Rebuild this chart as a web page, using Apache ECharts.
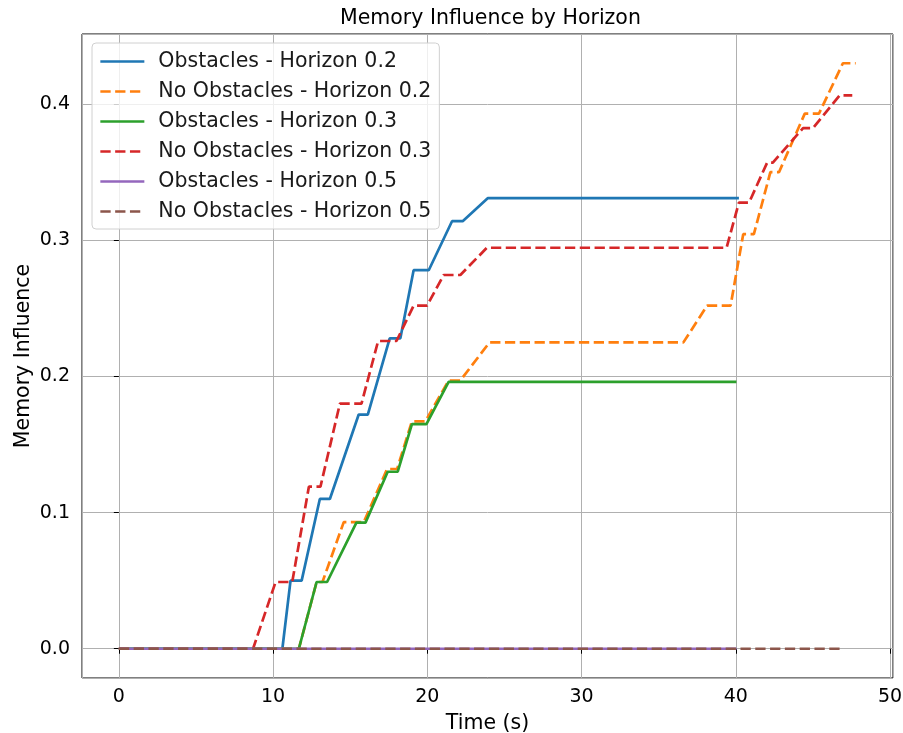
<!DOCTYPE html>
<html>
<head>
<meta charset="utf-8">
<script src="https://cdn.jsdelivr.net/npm/echarts@6/dist/echarts.min.js"></script>
<style>
  html, body { margin: 0; padding: 0; background: #fff; }
  #chart { width: 903px; height: 733px; }
</style>
</head>
<body>
<div id="chart"></div>
<script>
// data (time in s, memory influence)
const obsH02X = [0, 10.6, 11.13, 11.85, 13.03, 13.68, 15.55, 16.14, 17.56, 18.25, 19.11, 20.09, 21.6, 22.29, 23.93, 40.2];
const obsH02Y = [0, 0, 0.05, 0.05, 0.11, 0.11, 0.172, 0.172, 0.228, 0.228, 0.278, 0.278, 0.314, 0.314, 0.331, 0.331];

const noObsH02X = [0, 11.67, 12.82, 13.2, 14.58, 15.88, 17.39, 18.04, 19.0, 19.87, 21.38, 22.14, 24.03, 36.6, 38.14, 39.66, 40.48, 41.17, 42.24, 42.8, 44.47, 45.39, 46.94, 47.77];
const noObsH02Y = [0, 0, 0.049, 0.049, 0.093, 0.093, 0.132, 0.132, 0.167, 0.167, 0.197, 0.197, 0.225, 0.225, 0.252, 0.252, 0.3045, 0.3045, 0.35, 0.35, 0.393, 0.393, 0.43, 0.43];

const obsH03X = [0, 11.67, 12.82, 13.5, 15.4, 15.99, 17.43, 18.08, 19.0, 19.94, 21.38, 40.04];
const obsH03Y = [0, 0, 0.049, 0.049, 0.0926, 0.0926, 0.13, 0.13, 0.165, 0.165, 0.196, 0.196];

const noObsH03X = [0, 8.7, 10.16, 11.24, 12.32, 13.07, 14.33, 15.73, 16.81, 18.0, 19.11, 19.98, 21.06, 22.14, 23.86, 39.4, 40.2, 40.86, 42.03, 42.4, 44.36, 45.0, 46.73, 47.55];
const noObsH03Y = [0, 0, 0.049, 0.049, 0.119, 0.119, 0.18, 0.18, 0.226, 0.226, 0.252, 0.252, 0.2745, 0.2745, 0.2945, 0.2945, 0.3277, 0.3277, 0.357, 0.357, 0.3824, 0.3824, 0.4064, 0.4064];

const obsH05X = [0, 40.04];
const obsH05Y = [0, 0];

const noObsH05X = [0, 46.9];
const noObsH05Y = [0, 0];

const seriesNames = [
  "Obstacles - Horizon 0.2",
  "No Obstacles - Horizon 0.2",
  "Obstacles - Horizon 0.3",
  "No Obstacles - Horizon 0.3",
  "Obstacles - Horizon 0.5",
  "No Obstacles - Horizon 0.5"
];
const colors = ["#1f77b4", "#ff7f0e", "#2ca02c", "#d62728", "#9467bd", "#8c564b"];

const zip = (xs, ys) => xs.map((x, i) => [x, ys[i]]);
const allData = [
  zip(obsH02X, obsH02Y),
  zip(noObsH02X, noObsH02Y),
  zip(obsH03X, obsH03Y),
  zip(noObsH03X, noObsH03Y),
  zip(obsH05X, obsH05Y),
  zip(noObsH05X, noObsH05Y)
];

const font = "DejaVu Sans";
const myChart = echarts.init(document.getElementById("chart"));

const options = {
  animation: false,
  textStyle: { fontFamily: font },
  title: {
    text: "Memory Influence by Horizon",
    left: 335,
    top: 3,
    textStyle: { fontFamily: font, fontSize: 20.5, fontWeight: "normal", color: "#000" }
  },
  grid: {
    left: 82, right: 10, top: 34, bottom: 55,
    outerBoundsMode: "none",
    show: true, borderColor: "#000", borderWidth: 1
  },
  legend: {
    orient: "vertical",
    left: 92, top: 43,
    padding: [8, 8, 7, 7],
    itemWidth: 44, itemHeight: 20, itemGap: 9,
    itemStyle: { color: "rgba(0,0,0,0)", borderWidth: 0, opacity: 0 },
    lineStyle: { width: 2.7 },
    backgroundColor: "rgba(255,255,255,0.8)",
    borderColor: "#d0d0d0", borderWidth: 1, borderRadius: 4,
    textStyle: { fontFamily: font, fontSize: 20.5, lineHeight: 20, color: "#1a1a1a", padding: [0, 0, 0, 9] },
    data: seriesNames
  },
  xAxis: {
    type: "value",
    min: -2.39, max: 50.19,
    splitNumber: 5,
    name: "Time (s)",
    nameLocation: "middle",
    nameGap: 35,
    nameMoveOverlap: false,
    nameTextStyle: { fontFamily: font, fontSize: 20.5, color: "#000" },
    axisLine: { show: false },
    axisTick: { show: true, length: 5, lineStyle: { color: "#000" } },
    axisLabel: { fontSize: 19, color: "#000", margin: 10, showMinLabel: false, showMaxLabel: false },
    splitLine: { show: true, lineStyle: { color: "#b0b0b0", width: 1 } }
  },
  yAxis: {
    type: "value",
    min: -0.0215, max: 0.4515,
    splitNumber: 5,
    name: "Memory Influence",
    nameLocation: "middle",
    nameGap: 48,
    nameMoveOverlap: false,
    nameTextStyle: { fontFamily: font, fontSize: 20.5, color: "#000" },
    axisLine: { show: false },
    axisTick: { show: true, length: 5, lineStyle: { color: "#000" } },
    axisLabel: {
      fontSize: 19, color: "#000", margin: 12, showMinLabel: false, showMaxLabel: false,
      formatter: (v) => v.toFixed(1)
    },
    splitLine: { show: true, lineStyle: { color: "#b0b0b0", width: 1 } }
  },
  series: allData.map((d, i) => ({
    name: seriesNames[i],
    type: "line",
    data: d,
    symbol: "none",
    color: colors[i],
    lineStyle: {
      color: colors[i],
      width: 2.7,
      type: i % 2 === 1 ? [10.3, 4.5] : "solid"
    }
  }))
};

myChart.setOption(options);
</script>
</body>
</html>
